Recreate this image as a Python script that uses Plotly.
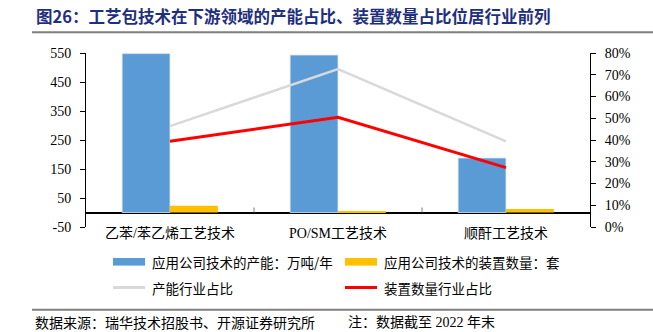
import plotly.graph_objects as go

# Data
categories = ["乙苯/苯乙烯工艺技术", "PO/SM工艺技术", "顺酐工艺技术"]
capacity = [548, 543, 188]          # 应用公司技术的产能：万吨/年
units = [23, 5, 12]                 # 应用公司技术的装置数量：套
capacity_share = [0.464, 0.726, 0.394]   # 产能行业占比
units_share = [0.394, 0.504, 0.273]      # 装置数量行业占比

left_ticks = [-50, 50, 150, 250, 350, 450, 550]
left_ticktext = ["-50", "50", "150", "250", "350", "450", "550"]
right_ticks = [0, 0.1, 0.2, 0.3, 0.4, 0.5, 0.6, 0.7, 0.8]

BLUE = "#5B9BD5"
ORANGE = "#FFC000"
GRAY = "#D9D9D9"
RED = "#FF0000"

W, H = 653, 332
PL, PR, PT, PB = 86, 590, 53, 227

CJK = "Noto Sans CJK SC"
SERIF = "Liberation Serif, Noto Sans CJK SC"


def fx(x):
    return (x - PL) / (PR - PL)


def fy(y):
    return (PB - y) / (PB - PT)


fig = go.Figure()
fig.add_trace(go.Bar(x=categories, y=capacity, name="应用公司技术的产能：万吨/年",
                     marker=dict(color=BLUE, line=dict(color="#DCE8F5", width=0.8)),
                     yaxis="y"))
fig.add_trace(go.Bar(x=categories, y=units, name="应用公司技术的装置数量：套",
                     marker=dict(color=ORANGE, line=dict(width=0)), yaxis="y"))
fig.add_trace(go.Scatter(x=categories, y=capacity_share, name="产能行业占比",
                         mode="lines", line=dict(color=GRAY, width=2.5), yaxis="y2"))
fig.add_trace(go.Scatter(x=categories, y=units_share, name="装置数量行业占比",
                         mode="lines", line=dict(color=RED, width=3), yaxis="y2"))

fig.update_layout(
    width=W, height=H, autosize=False,
    margin=dict(l=PL, r=W - PR, t=PT, b=H - PB),
    paper_bgcolor="white", plot_bgcolor="white",
    barmode="group", bargap=0.43, bargroupgap=0,
    showlegend=False,
    font=dict(family=SERIF, size=14, color="#000000"),
    xaxis=dict(showgrid=False, showline=False, ticks="", zeroline=False,
               tickfont=dict(family=SERIF, size=14), ticklabelstandoff=-4),
    yaxis=dict(range=[-50, 550], tickvals=left_ticks, ticktext=left_ticktext,
               showgrid=False, showline=True, linecolor="#000000", linewidth=1,
               ticks="outside", ticklen=5, tickcolor="#000000",
               zeroline=True, zerolinecolor="#000000", zerolinewidth=1.5,
               tickfont=dict(family=SERIF, size=14), ticklabelstandoff=6),
    yaxis2=dict(range=[0, 0.8], tickvals=right_ticks, tickformat=".0%",
                overlaying="y", side="right", showgrid=False,
                showline=True, linecolor="#000000", linewidth=1,
                ticks="outside", ticklen=5, tickcolor="#000000", zeroline=False,
                tickfont=dict(family=SERIF, size=14), ticklabelstandoff=6),
)

shapes = []
# category boundary ticks on the zero line
for b in [0.5, 1.5]:
    shapes.append(dict(type="line", xref="x", yref="y", ysizemode="pixel", yanchor=0,
                       x0=b, x1=b, y0=0, y1=5, line=dict(color="#808080", width=1)))

# title and footer rules
shapes.append(dict(type="line", xref="paper", yref="paper",
                   x0=fx(32), x1=fx(W), y0=fy(32.3), y1=fy(32.3),
                   line=dict(color="#7F7F7F", width=2)))
shapes.append(dict(type="line", xref="paper", yref="paper",
                   x0=fx(32), x1=fx(W), y0=fy(309.7), y1=fy(309.7),
                   line=dict(color="#7F7F7F", width=2)))

annotations = [
    dict(text="<b>图26：工艺包技术在下游领域的产能占比、装置数量占比位居行业前列</b>",
         xref="paper", yref="paper", x=fx(34), y=fy(15.5), xanchor="left", yanchor="middle",
         showarrow=False, font=dict(family=CJK, size=16.5, color="#1F2F80")),
    dict(text="数据来源：瑞华技术招股书、开源证券研究所",
         xref="paper", yref="paper", x=fx(33), y=fy(322), xanchor="left", yanchor="middle",
         showarrow=False, font=dict(family=CJK, size=14, color="#000000")),
    dict(text="注：数据截至 2022 年末",
         xref="paper", yref="paper", x=fx(346), y=fy(322), xanchor="left", yanchor="middle",
         showarrow=False, font=dict(family="Liberation Serif, Noto Sans CJK SC", size=14, color="#000000")),
]

# legend: two columns, two rows
legend_items = [
    ("应用公司技术的产能：万吨/年", BLUE, "bar", 113, 261.8),
    ("应用公司技术的装置数量：套", ORANGE, "bar", 345, 261.8),
    ("产能行业占比", GRAY, "line", 113, 287.5),
    ("装置数量行业占比", RED, "line", 345, 287.5),
]
for label, color, kind, x0, yc in legend_items:
    if kind == "bar":
        shapes.append(dict(type="rect", xref="paper", yref="paper",
                           x0=fx(x0), x1=fx(x0 + 32), y0=fy(yc - 3.8), y1=fy(yc + 3.8),
                           fillcolor=color, line=dict(width=0)))
    else:
        shapes.append(dict(type="line", xref="paper", yref="paper",
                           x0=fx(x0), x1=fx(x0 + 32), y0=fy(yc), y1=fy(yc),
                           line=dict(color=color, width=3)))
    annotations.append(dict(text=label, xref="paper", yref="paper",
                            x=fx(x0 + 37), y=fy(yc), xanchor="left", yanchor="middle",
                            showarrow=False, font=dict(family=CJK, size=13.5, color="#000000")))

fig.update_layout(shapes=shapes, annotations=annotations)

fig.write_html("out.html")
